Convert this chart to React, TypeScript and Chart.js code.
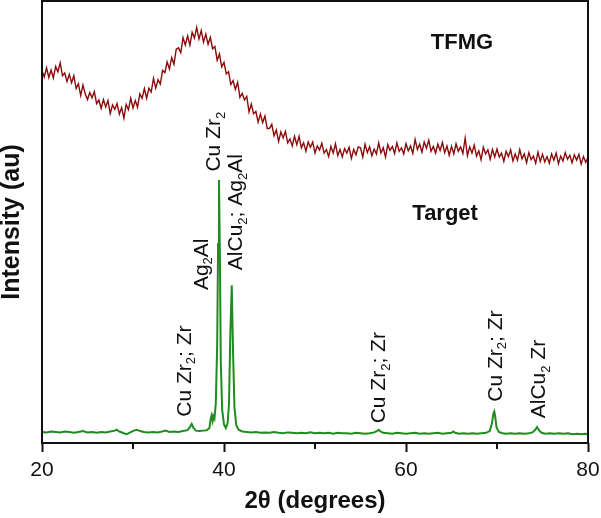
import React, { useEffect, useRef } from "react";
import { Chart, registerables } from "chart.js";

Chart.register(...registerables);

// ---- Data ----
// TFMG (thin film) pattern, sampled every 0.25 deg from 20 to 80
const redStart = 20;
const redStep = 0.25;
const redIntensity = [
  84.2, 82.8, 84.9, 82.7, 84.4, 82.6, 85.2, 84.0, 86.0, 83.1, 83.7, 81.8, 83.4, 81.5, 83.1, 80.2, 81.3, 78.6, 81.0, 79.0,
  77.7, 79.3, 78.1, 79.5, 76.8, 77.6, 75.7, 77.7, 76.0, 77.5, 74.5, 76.5, 75.5, 76.8, 74.4, 75.9, 73.5, 76.6, 75.4, 78.0,
  75.8, 77.5, 76.0, 79.0, 78.0, 80.2, 78.0, 80.3, 79.4, 82.5, 80.3, 82.2, 81.2, 84.3, 83.8, 86.2, 84.6, 87.2, 85.7, 89.1,
  89.4, 88.3, 91.7, 90.0, 92.1, 90.0, 92.9, 91.6, 94.0, 91.4, 93.3, 90.7, 92.5, 90.2, 91.8, 89.2, 89.7, 86.6, 88.0, 85.1,
  86.1, 83.5, 84.0, 81.1, 82.0, 80.0, 81.6, 78.2, 79.1, 77.6, 78.4, 74.9, 76.7, 74.5, 75.0, 72.6, 74.4, 72.5, 74.0, 71.1,
  71.2, 72.1, 69.5, 70.8, 68.2, 70.4, 69.0, 70.5, 67.9, 68.8, 67.2, 69.4, 67.5, 69.4, 66.8, 67.9, 66.0, 68.1, 66.9, 68.1,
  65.6, 67.2, 66.3, 67.8, 65.6, 66.4, 64.8, 67.1, 65.6, 67.7, 65.0, 66.4, 64.7, 66.6, 65.6, 66.9, 64.4, 66.4, 65.2, 67.0,
  66.8, 64.7, 67.6, 65.7, 67.0, 65.0, 66.5, 65.4, 67.9, 65.6, 66.8, 64.7, 67.5, 66.2, 67.1, 65.5, 67.9, 66.0, 66.8, 65.4,
  67.7, 66.1, 67.2, 65.5, 68.7, 66.4, 67.6, 65.8, 68.1, 66.7, 68.5, 66.0, 67.1, 65.6, 67.6, 66.2, 68.0, 65.7, 67.2, 65.1,
  67.1, 65.4, 67.7, 66.0, 67.0, 65.5, 69.0, 65.0, 67.0, 65.6, 67.4, 64.9, 66.1, 64.1, 66.9, 65.4, 66.3, 64.2, 66.4, 64.7,
  66.5, 64.7, 65.6, 63.7, 66.0, 64.8, 66.3, 63.8, 65.4, 64.0, 66.4, 64.3, 65.4, 63.4, 65.7, 64.1, 64.9, 63.3, 65.8, 63.7,
  65.3, 63.6, 64.8, 63.3, 65.4, 64.0, 65.6, 63.2, 64.9, 63.8, 65.7, 64.2, 65.1, 63.4, 65.2, 64.0, 65.3, 63.1, 64.8, 63.5,
  64.6,
];

// Target pattern
const greenTheta = [
  20, 20.5, 21, 21.5, 22, 22.5, 23, 23.5, 24, 24.5, 25, 25.5, 26, 26.5, 27, 27.5, 28, 28.2, 28.5, 29,
  29.3, 29.7, 30.1, 30.4, 30.8, 31.2, 31.7, 32.2, 32.7, 33.2, 33.6, 34, 34.5, 35, 35.5, 36, 36.25, 36.45, 36.65, 36.9,
  37.3, 37.7, 38.1, 38.4, 38.55, 38.65, 38.75, 38.85, 38.95, 39.1, 39.25, 39.35, 39.45, 39.55, 39.65, 39.8, 40.0, 40.2, 40.4, 40.55,
  40.7, 40.85, 41.0, 41.15, 41.35, 41.6, 42, 42.5, 43, 43.5, 44, 44.5, 45, 45.5, 46, 46.5, 47, 47.5, 48, 48.5,
  49, 49.5, 50, 50.5, 51, 51.5, 52, 52.5, 53, 53.5, 54, 54.5, 55, 55.5, 56, 56.5, 56.8, 57.0, 57.2, 57.5,
  58, 58.5, 59, 59.5, 60, 60.5, 61, 61.5, 62, 62.5, 63, 63.5, 64, 64.5, 65.0, 65.2, 65.4, 65.8, 66.3, 66.8,
  67.3, 67.8, 68.3, 68.8, 69.2, 69.45, 69.6, 69.7, 69.8, 69.95, 70.2, 70.6, 71, 71.5, 72, 72.5, 73, 73.5, 73.9, 74.2,
  74.4, 74.6, 74.9, 75.3, 75.8, 76.3, 76.8, 77.3, 77.8, 78.3, 78.8, 79.3, 79.7, 80,
];
const greenIntensity = [
  2.5, 2.4, 2.6, 2.5, 2.4, 2.6, 2.5, 2.3, 2.5, 2.7, 2.4, 2.5, 2.3, 2.5, 2.4, 2.6, 2.8, 3.0, 2.6, 2.2,
  2.0, 2.4, 2.8, 3.0, 2.7, 2.5, 2.4, 2.5, 2.4, 2.6, 2.8, 2.5, 2.6, 2.5, 2.7, 2.9, 3.6, 4.3, 3.4, 2.8,
  2.7, 2.8, 2.9, 3.4, 5.6, 6.3, 5.0, 6.0, 5.5, 9.0, 22.0, 45.0, 59.5, 42.0, 18.0, 7.5, 4.2, 3.4, 4.5, 9.0,
  25.0, 35.7, 20.0, 8.0, 4.0, 3.0, 2.6, 2.5, 2.4, 2.5, 2.3, 2.4, 2.3, 2.5, 2.3, 2.2, 2.4, 2.3, 2.2, 2.3,
  2.2, 2.4, 2.2, 2.3, 2.2, 2.3, 2.1, 2.3, 2.2, 2.2, 2.1, 2.3, 2.2, 2.1, 2.2, 2.4, 2.7, 3.0, 2.6, 2.3,
  2.2, 2.1, 2.3, 2.2, 2.1, 2.2, 2.3, 2.1, 2.2, 2.1, 2.2, 2.3, 2.1, 2.2, 2.3, 2.6, 2.3, 2.1, 2.2, 2.1,
  2.2, 2.1, 2.2, 2.3, 2.7, 4.5, 6.6, 7.1, 6.0, 3.5, 2.5, 2.2, 2.1, 2.2, 2.1, 2.2, 2.1, 2.2, 2.4, 3.0,
  3.6, 2.9, 2.3, 2.1, 2.2, 2.1, 2.2, 2.1, 2.2, 2.0, 2.1, 2.0, 2.1, 2.0,
];

// Axis
const xMin = 20;
const xMax = 80;
const xStep = 10;
const majorTicks = [20, 40, 60, 80];
const minorTicks = [30, 50, 70];
const yMin = 0;
const yMax = 100;

// Peak annotations (2θ of label column, intensity where text starts)
const peakLabels = ["Cu Zr₂; Zr", "Ag₂Al", "Cu Zr₂", "AlCu₂; Ag₂Al", "Cu Zr₂; Zr", "Cu Zr₂; Zr", "AlCu₂ Zr"];
const peakLabelTheta = [35.5, 37.4, 38.75, 41.15, 56.9, 69.67, 74.5];
const peakLabelBase = [5.95, 34.6, 61.4, 39.1, 4.45, 9.35, 5.6];

// Sample names
const sampleNames = ["TFMG", "Target"];
const sampleNameTheta = [66.15, 64.3];
const sampleNameBase = [89.1, 50.5];

const FONT = "'Liberation Sans', Arial, Helvetica, sans-serif";
const RED = "#8b0b0b";
const GREEN = "#1e8c1e";
const AXIS = "#111111";

function drawRich(ctx: CanvasRenderingContext2D, text: string, size: number) {
  let x = 0;
  for (const ch of text) {
    if (ch === "₂") {
      const s = Math.round(size * 0.62);
      ctx.font = `${s}px ${FONT}`;
      ctx.fillText("2", x, size * 0.22);
      x += ctx.measureText("2").width;
    } else {
      ctx.font = `${size}px ${FONT}`;
      ctx.fillText(ch, x, 0);
      x += ctx.measureText(ch).width;
    }
  }
}

const xrdPlugin = {
  id: "xrdDecor",
  afterDraw(chart: any) {
    const { ctx, chartArea, scales } = chart;
    const xs = scales.x;
    const ys = scales.y;
    ctx.save();
    // frame
    ctx.strokeStyle = AXIS;
    ctx.lineWidth = 2;
    ctx.strokeRect(chartArea.left, chartArea.top, chartArea.right - chartArea.left, chartArea.bottom - chartArea.top);
    // minor ticks
    ctx.beginPath();
    for (const t of minorTicks) {
      const px = Math.round(xs.getPixelForValue(t));
      ctx.moveTo(px, chartArea.bottom);
      ctx.lineTo(px, chartArea.bottom + 6);
    }
    ctx.stroke();

    // peak labels
    const size = 21;
    ctx.fillStyle = "#111111";
    ctx.textAlign = "left";
    ctx.textBaseline = "alphabetic";
    peakLabels.forEach((lab, i) => {
      const px = xs.getPixelForValue(peakLabelTheta[i]) + size * 0.358;
      const py = ys.getPixelForValue(peakLabelBase[i]);
      ctx.save();
      ctx.translate(px, py);
      ctx.rotate(-Math.PI / 2);
      drawRich(ctx, lab, size);
      ctx.restore();
    });

    // sample names
    ctx.font = `bold 22px ${FONT}`;
    ctx.textAlign = "center";
    sampleNames.forEach((n, i) => {
      ctx.fillText(n, xs.getPixelForValue(sampleNameTheta[i]), ys.getPixelForValue(sampleNameBase[i]));
    });
    ctx.restore();
  },
};

export default function App() {
  const canvasRef = useRef<HTMLCanvasElement | null>(null);

  useEffect(() => {
    if (!canvasRef.current) return;
    const redData = redIntensity.map((v, i) => ({ x: redStart + i * redStep, y: v }));
    const greenData = greenTheta.map((t, i) => ({ x: t, y: greenIntensity[i] }));

    const chart = new Chart(canvasRef.current, {
      type: "line",
      data: {
        datasets: [
          {
            label: "TFMG",
            data: redData,
            borderColor: RED,
            borderWidth: 1.4,
            pointRadius: 0,
            tension: 0,
            fill: false,
          },
          {
            label: "Target",
            data: greenData,
            borderColor: GREEN,
            borderWidth: 2,
            pointRadius: 0,
            tension: 0,
            fill: false,
          },
        ],
      },
      options: {
        animation: false,
        responsive: true,
        maintainAspectRatio: false,
        layout: { padding: { left: 0, right: 13, top: 1, bottom: 0 } },
        plugins: { legend: { display: false }, tooltip: { enabled: false } },
        scales: {
          x: {
            type: "linear",
            min: xMin,
            max: xMax,
            ticks: {
              stepSize: xStep,
              autoSkip: false,
              maxRotation: 0,
              padding: 6,
              color: "#111111",
              font: { family: FONT, size: 21 },
              callback: (v: any) => (majorTicks.includes(Number(v)) ? String(v) : ""),
            },
            grid: {
              display: true,
              drawOnChartArea: false,
              drawTicks: true,
              tickLength: 9,
              tickWidth: 2,
              tickColor: (c: any) =>
                c.tick && majorTicks.includes(Number(c.tick.value)) ? AXIS : "rgba(0,0,0,0)",
            },
            border: { display: false },
            title: {
              display: true,
              text: "2θ (degrees)",
              color: "#111111",
              font: { family: FONT, size: 24, weight: "bold", lineHeight: 1.2 },
              padding: { top: 0, bottom: 2 },
            },
            afterFit: (scale: any) => {
              scale.height = 75;
              scale.paddingLeft = 0;
              scale.paddingRight = 0;
            },
          },
          y: {
            type: "linear",
            min: yMin,
            max: yMax,
            ticks: { display: false },
            grid: { display: false },
            border: { display: false },
            title: {
              display: true,
              text: "Intensity (au)",
              color: "#111111",
              font: { family: FONT, size: 25, weight: "bold", lineHeight: 1.0 },
              padding: { top: 0, bottom: 0 },
            },
            afterFit: (scale: any) => {
              scale.width = 42;
              scale.paddingTop = 0;
              scale.paddingBottom = 0;
            },
          },
        },
      },
      plugins: [xrdPlugin],
    } as any);
    return () => chart.destroy();
  }, []);

  return (
    <div style={{ position: "fixed", left: 0, top: 0, width: 601, height: 518, background: "#fff" }}>
      <canvas ref={canvasRef} />
    </div>
  );
}
